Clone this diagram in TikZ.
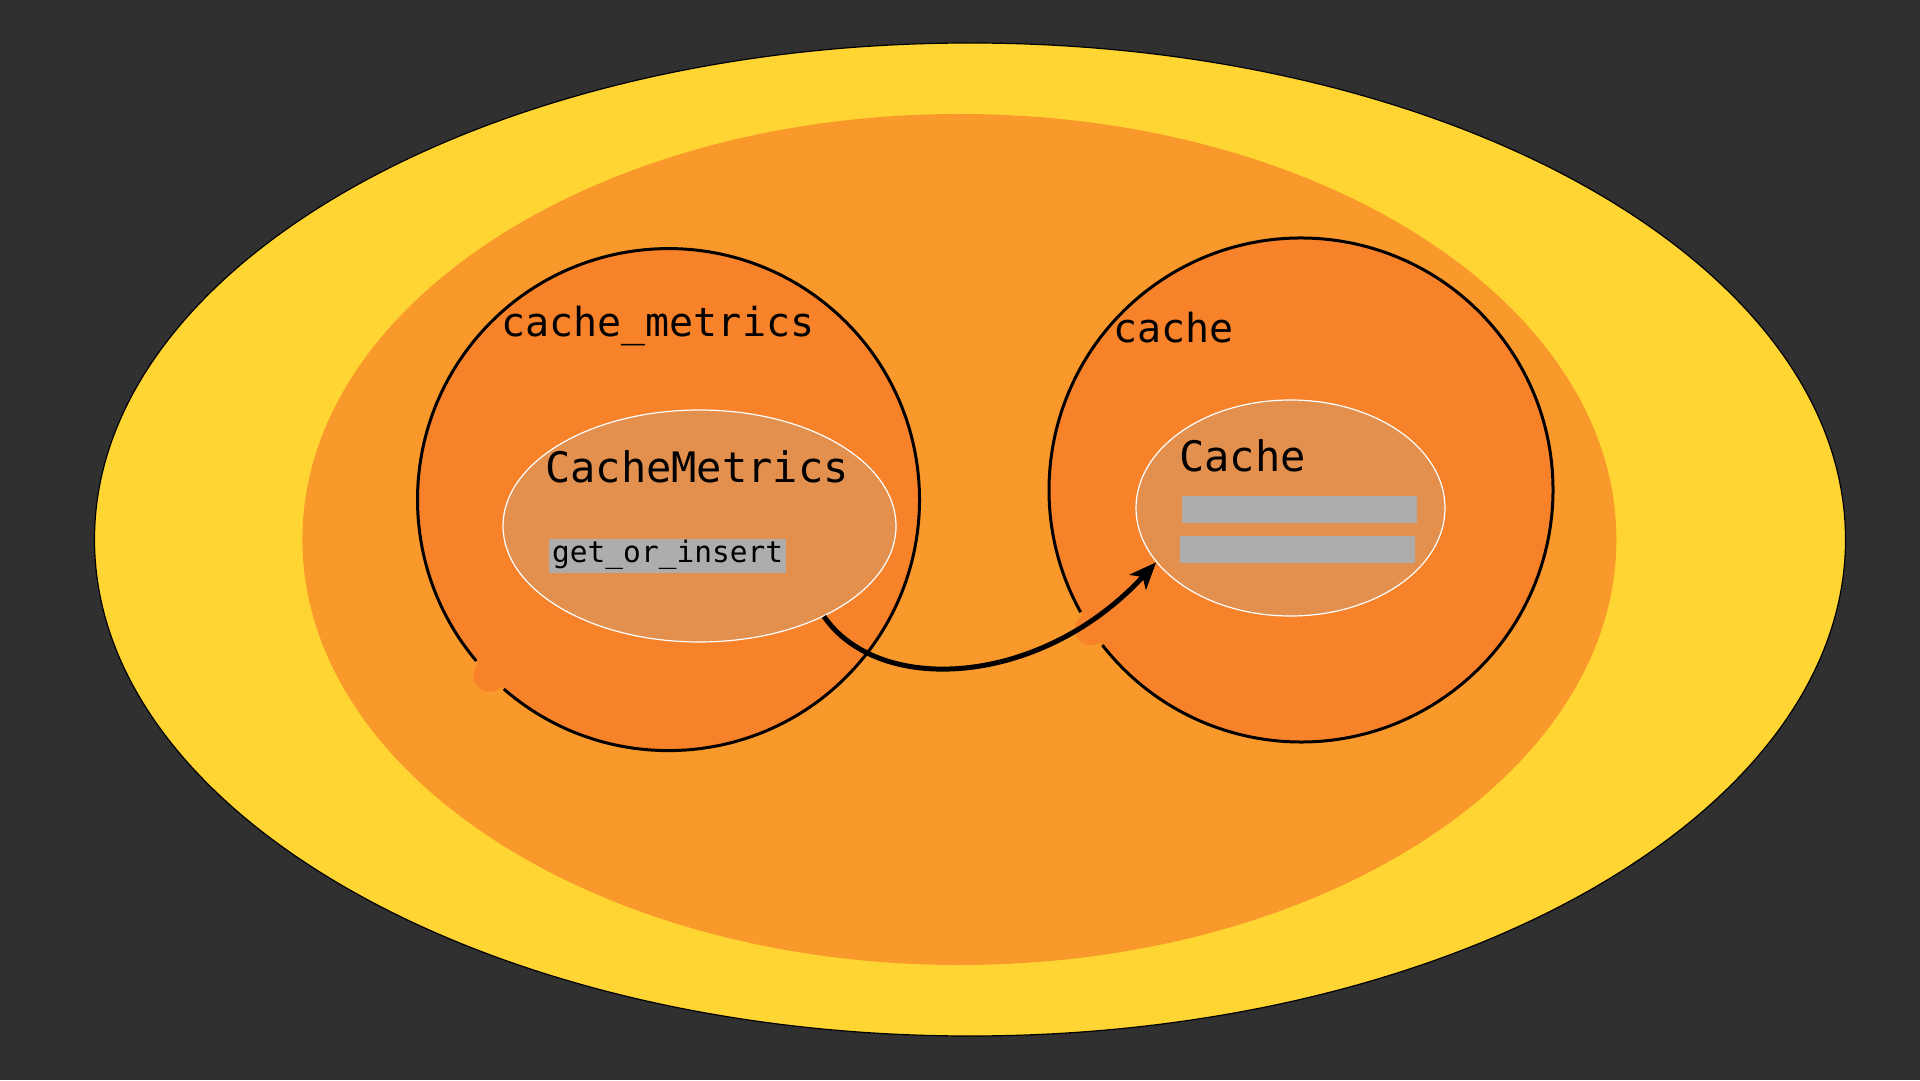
\documentclass[tikz,border=0pt]{standalone}
\usepackage{fontspec}
\setmonofont{DejaVu Sans Mono}
\usetikzlibrary{shapes.geometric, arrows.meta, positioning}

\definecolor{bgdark}{HTML}{303030}
\definecolor{yellowfill}{HTML}{FFD533}
\definecolor{orangefill}{HTML}{F9982B}
\definecolor{modfill}{HTML}{F8822A}
\definecolor{typefill}{HTML}{E3904E}
\definecolor{fieldfill}{HTML}{ADADAD}

\begin{document}
\begin{tikzpicture}[x=1pt, y=1pt,
		world/.style = {ellipse, draw=black, line width=1.2pt, fill=yellowfill, inner sep=0pt},
		crate/.style = {ellipse, fill=orangefill, inner sep=0pt},
		module/.style = {circle, fill=modfill, inner sep=0pt, minimum size=502pt},
		ring/.style = {draw=black, line width=3pt},
		typebox/.style = {ellipse, fill=typefill, draw=white, line width=1.2pt, inner sep=0pt},
		modname/.style = {anchor=base west, inner sep=0pt, font=\ttfamily\fontsize{40}{48}\selectfont},
		typename/.style = {anchor=base west, inner sep=0pt, font=\ttfamily\fontsize{42}{50}\selectfont},
		method/.style = {anchor=base west, fill=fieldfill, inner xsep=3pt, inner ysep=2.3pt, text height=22pt, text depth=7.5pt, font=\ttfamily\fontsize{29.5}{35}\selectfont},
		field/.style = {anchor=south west, fill=fieldfill, inner sep=0pt, minimum width=235pt, minimum height=27pt}]
		\fill[bgdark] (0,0) rectangle (1920,1080);
		\useasboundingbox (0,0) rectangle (1920,1080);
		
		\node[world, minimum width=1751pt, minimum height=993pt] (world) at (970,540.5) {};
		\node[crate, minimum width=1314pt, minimum height=851pt] (crate) at (959.4,540.5) {};
		
		% module cache_metrics
		\node[module] (metricsmod) at (668.5,580.4) {};
		\draw[ring] ([shift={(229:251)}]metricsmod.center) arc[start angle=229, end angle=580, radius=251];
		\fill[modfill] ([shift={(224.5:251)}]metricsmod.center) circle[radius=16];
		\node[modname] (metricsname) at (501,743) {cache\_metrics};
		\node[typebox, minimum width=393pt, minimum height=232pt] (metricstype) at (699.5,554) {};
		\node[typename] (metricstitle) at (545,597) {CacheMetrics};
		\node[method] (getinsert) at (549,517) {get\_or\_insert};
		
		% module cache
		\node[module, minimum size=504pt] (cachemod) at (1301,590) {};
		\draw[ring] ([shift={(218:252)}]cachemod.center) arc[start angle=218, end angle=569, radius=252];
		\fill[modfill] ([shift={(213.5:252)}]cachemod.center) circle[radius=16];
		\node[modname] (cachename) at (1113,737) {cache};
		\node[typebox, minimum width=309pt, minimum height=216pt] (cachetype) at (1290.5,572) {};
		\node[typename] (cachetitle) at (1179,608) {Cache};
		\node[field] (field1) at (1182,557) {};
		\node[field] (field2) at (1180,517) {};
		
		\draw[line width=5pt, -{Stealth[length=27pt, width=22pt, inset=7pt]}] (metricstype.-36) .. controls +(55,-80) and +(-115,-125) .. (cachetype.202);
	\end{tikzpicture}
\end{document}
